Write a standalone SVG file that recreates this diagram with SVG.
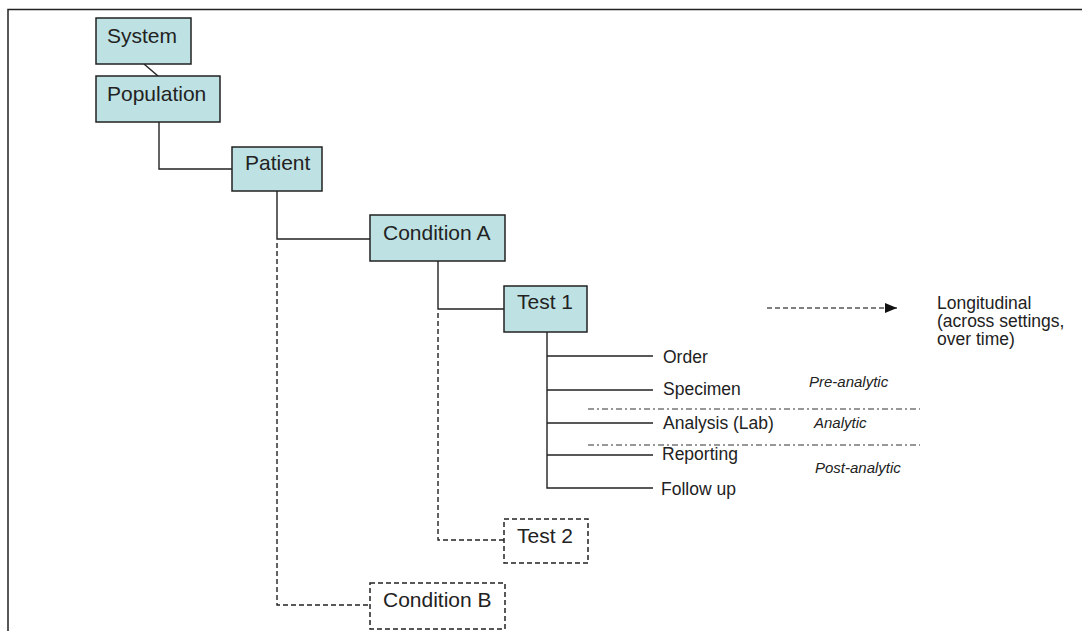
<svg xmlns="http://www.w3.org/2000/svg" width="1082" height="631" viewBox="0 0 1082 631">
<style>
.box{fill:#bee2e4;stroke:#222;stroke-width:1.5}
.dbox{fill:#fff;stroke:#222;stroke-width:1.5;stroke-dasharray:5 3}
.ln{fill:none;stroke:#222;stroke-width:1.4}
.dl{fill:none;stroke:#222;stroke-width:1.4;stroke-dasharray:5 3}
.dd{fill:none;stroke:#333;stroke-width:1.2;stroke-dasharray:6 3 2 3}
.t{font-family:"Liberation Sans",Arial,sans-serif;font-size:21px;fill:#222}
.s{font-family:"Liberation Sans",Arial,sans-serif;font-size:17.5px;fill:#222}
.i{font-family:"Liberation Sans",Arial,sans-serif;font-size:15px;font-style:italic;fill:#222}
</style>
<defs>
<marker id="ah" markerWidth="12" markerHeight="10" refX="12" refY="5" orient="auto" markerUnits="userSpaceOnUse">
<path d="M0,0 L12,5 L0,10 Z" fill="#111"/>
</marker>
</defs>
<rect width="1082" height="631" fill="#fff"/>
<path d="M8,631 V9.5 H1082" fill="none" stroke="#222" stroke-width="1.5"/>
<g id="connectors">
<path class="ln" d="M144,64 L158,76"/>
<path class="ln" d="M159,122 V169 H232"/>
<path class="ln" d="M277,191 V239 H370"/>
<path class="ln" d="M438,261 V309 H504"/>
<path class="dl" d="M277,243 V605 H370"/>
<path class="dl" d="M438,313 V540 H504"/>
<path class="ln" d="M547,332 V488 H653 M547,356 H653 M547,390 H653 M547,423 H653 M547,455 H653"/>
<path class="dd" d="M588,409 H920 M588,445 H920"/>
<path d="M767,308 H897" fill="none" stroke="#555" stroke-width="1.3" stroke-dasharray="5 3" marker-end="url(#ah)"/>
</g>
<g id="system"><rect class="box" x="96" y="18" width="95" height="46"/><text class="t" x="107" y="43">System</text></g>
<g id="population"><rect class="box" x="96" y="76" width="124" height="46"/><text class="t" x="107" y="101">Population</text></g>
<g id="patient"><rect class="box" x="232" y="147" width="90" height="44"/><text class="t" x="245" y="170">Patient</text></g>
<g id="conditionA"><rect class="box" x="370" y="215" width="135" height="46"/><text class="t" x="383" y="240">Condition A</text></g>
<g id="test1"><rect class="box" x="504" y="286" width="83" height="46"/><text class="t" x="517" y="309">Test 1</text></g>
<g id="test2"><rect class="dbox" x="504" y="519" width="84" height="44"/><text class="t" x="517" y="543">Test 2</text></g>
<g id="conditionB"><rect class="dbox" x="370" y="583" width="135" height="46"/><text class="t" x="383" y="607">Condition B</text></g>
<g id="steps">
<text class="s" x="663" y="363">Order</text>
<text class="s" x="663" y="395">Specimen</text>
<text class="s" x="663" y="429">Analysis (Lab)</text>
<text class="s" x="662" y="460">Reporting</text>
<text class="s" x="661" y="495">Follow up</text>
</g>
<g id="phases">
<text class="i" x="809" y="387">Pre-analytic</text>
<text class="i" x="814" y="428">Analytic</text>
<text class="i" x="815" y="473">Post-analytic</text>
</g>
<g id="longitudinal">
<text class="s" x="937" y="309">Longitudinal</text>
<text class="s" x="937" y="327">(across settings,</text>
<text class="s" x="937" y="345">over time)</text>
</g>
</svg>
